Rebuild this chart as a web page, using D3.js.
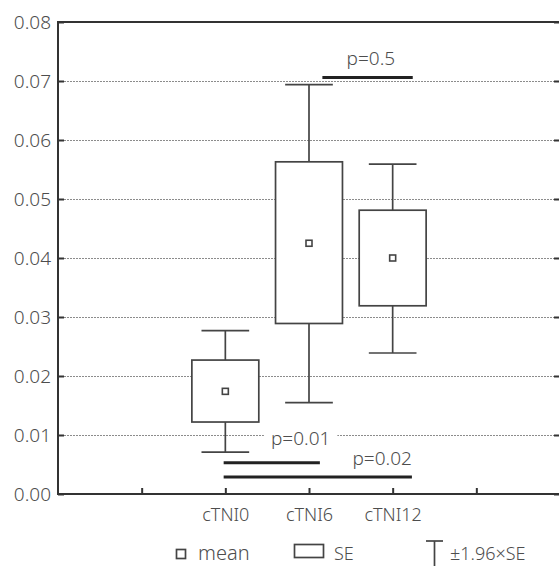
<!DOCTYPE html>
<html lang="en">
  <head>
    <meta charset="UTF-8" />
    <title>cTNI mean, SE and 1.96 SE</title>
    <script src="https://cdn.jsdelivr.net/npm/d3@7"></script>
    <style>
      body {
        margin: 0;
        background: #fff;
      }
      text {
        font-family: "Noto Sans", "Open Sans", sans-serif;
        font-weight: 300;
        fill: #4d4d4d;
      }
    </style>
  </head>
  <body>
    <div id="chart"></div>

    <script>
      // categories and their summary values
      const categories = ["cTNI0", "cTNI6", "cTNI12"];
      const means = [0.0174, 0.0425, 0.0400];
      const seLow = [0.0122, 0.0289, 0.0319];
      const seHigh = [0.0227, 0.0563, 0.0481];
      const ciLow = [0.0071, 0.0155, 0.0239];
      const ciHigh = [0.0277, 0.0694, 0.0559];

      // y ticks
      const yTicks = [0, 0.01, 0.02, 0.03, 0.04, 0.05, 0.06, 0.07, 0.08];

      // significance bars
      const compLabels = ["p=0.5", "p=0.01", "p=0.02"];
      const compFrom = ["cTNI6", "cTNI0", "cTNI0"];
      const compTo = ["cTNI12", "cTNI6", "cTNI12"];
      const compLevel = [0.0706, 0.0053, 0.0029];

      const legendLabels = ["mean", "SE", "±1.96×SE"];

      const W = 559,
        H = 566;
      const margin = { top: 22, right: 0, bottom: 72, left: 58 };

      const svg = d3
        .select("#chart")
        .append("svg")
        .attr("width", W)
        .attr("height", H);

      // slot positions: axis ticks at 1..5, categories on 2..4
      const x = d3.scaleLinear().domain([0, 6]).range([margin.left, W - margin.right + 1]);
      const pos = (c) => categories.indexOf(c) + 2;

      const y = d3
        .scaleLinear()
        .domain([0, 0.08])
        .range([H - margin.bottom, margin.top]);

      // gridlines
      svg
        .append("g")
        .selectAll("line")
        .data(yTicks.filter((t) => t > 0 && t < 0.08))
        .join("line")
        .attr("x1", x(0))
        .attr("x2", x(6))
        .attr("y1", (d) => y(d) + 0.5)
        .attr("y2", (d) => y(d) + 0.5)
        .attr("stroke", "#8c8c8c")
        .attr("stroke-width", 1)
        .attr("stroke-dasharray", "2,1");

      // left axis
      const yAxis = svg
        .append("g")
        .attr("transform", `translate(${x(0)},0)`)
        .call(
          d3
            .axisLeft(y)
            .tickValues(yTicks)
            .tickSize(-6)
            .tickPadding(7)
            .tickFormat(d3.format(".2f"))
        );
      yAxis.select(".domain").remove();
      yAxis.selectAll(".tick line").attr("stroke", "#333").attr("stroke-width", 2);
      yAxis
        .selectAll(".tick text")
        .attr("font-size", 19)
        .attr("fill", "#4d4d4d");

      // right side ticks
      svg
        .append("g")
        .attr("transform", `translate(${x(6)},0)`)
        .call(d3.axisRight(y).tickValues(yTicks).tickSize(-6).tickFormat(""))
        .call((g) => g.select(".domain").remove())
        .selectAll(".tick line")
        .attr("stroke", "#333")
        .attr("stroke-width", 2);

      // bottom axis
      const xAxis = svg
        .append("g")
        .attr("transform", `translate(0,${y(0)})`)
        .call(
          d3
            .axisBottom(x)
            .tickValues([1, 2, 3, 4, 5])
            .tickSize(-6)
            .tickPadding(14)
            .tickFormat((d) => (d >= 2 && d <= 4 ? categories[d - 2] : ""))
        );
      xAxis.select(".domain").remove();
      xAxis.selectAll(".tick line").attr("stroke", "#333").attr("stroke-width", 2);
      xAxis
        .selectAll(".tick text")
        .attr("font-size", 18)
        .attr("fill", "#4d4d4d");

      // frame: left, bottom and top
      const frame = svg.append("g").attr("stroke", "#333").attr("stroke-width", 2).attr("fill", "none");
      frame
        .append("path")
        .attr("d", `M${x(6) + 2},${y(0.08)}H${x(0)}V${y(0)}H${x(6) + 2}`);

      // whiskers
      const boxW = x(0.8) - x(0);
      const capW = x(0.57) - x(0);
      const boxes = svg.append("g");
      categories.forEach((c, i) => {
        const cx = x(pos(c));
        const g = boxes.append("g").attr("stroke", "#444").attr("stroke-width", 1.7);
        g.append("line").attr("x1", cx).attr("x2", cx).attr("y1", y(ciHigh[i])).attr("y2", y(seHigh[i]));
        g.append("line").attr("x1", cx).attr("x2", cx).attr("y1", y(seLow[i])).attr("y2", y(ciLow[i]));
        g.append("line").attr("x1", cx - capW / 2).attr("x2", cx + capW / 2).attr("y1", y(ciHigh[i])).attr("y2", y(ciHigh[i]));
        g.append("line").attr("x1", cx - capW / 2).attr("x2", cx + capW / 2).attr("y1", y(ciLow[i])).attr("y2", y(ciLow[i]));
        g.append("rect")
          .attr("x", cx - boxW / 2)
          .attr("y", y(seHigh[i]))
          .attr("width", boxW)
          .attr("height", y(seLow[i]) - y(seHigh[i]))
          .attr("fill", "#fff");
        g.append("rect")
          .attr("x", cx - 3)
          .attr("y", y(means[i]) - 3)
          .attr("width", 6)
          .attr("height", 6)
          .attr("fill", "#fff")
          .attr("stroke-width", 1.6);
      });

      // significance bars (line ends and label placement tuned per bar)
      const compLayout = {
        "p=0.5": { x1: 3.16, x2: 4.24, lx: 3.74, dy: -12, anchor: "middle", bg: false },
        "p=0.01": { x1: 1.98, x2: 3.13, lx: 2.9, dy: -18, anchor: "middle", bg: true },
        "p=0.02": { x1: 1.98, x2: 4.23, lx: 4.23, dy: -12, anchor: "end", bg: false },
      };
      const comps = svg.append("g");
      compLabels.forEach((lab, i) => {
        const L = compLayout[lab];
        const yy = y(compLevel[i]);
        comps
          .append("line")
          .attr("x1", x(L.x1))
          .attr("x2", x(L.x2))
          .attr("y1", yy)
          .attr("y2", yy)
          .attr("stroke", "#222")
          .attr("stroke-width", 3);
        const t = comps
          .append("text")
          .attr("x", x(L.lx))
          .attr("y", yy + L.dy)
          .attr("text-anchor", L.anchor)
          .attr("font-size", 19)
          .text(lab);
        if (L.bg) {
          const b = t.node().getBBox();
          comps
            .insert("rect", "text")
            .attr("x", b.x - 7)
            .attr("y", b.y + 4)
            .attr("width", b.width + 14)
            .attr("height", b.height - 8)
            .attr("fill", "#fff");
        }
      });

      // legend
      const lg = svg.append("g").attr("stroke", "#444").attr("stroke-width", 1.7).attr("fill", "#fff");
      lg.append("rect").attr("x", 176.5).attr("y", 549.5).attr("width", 9).attr("height", 9);
      lg.append("rect").attr("x", 294.5).attr("y", 544.5).attr("width", 29).attr("height", 13);
      lg.append("line").attr("x1", 426).attr("x2", 443).attr("y1", 541).attr("y2", 541);
      lg.append("line").attr("x1", 434.5).attr("x2", 434.5).attr("y1", 541).attr("y2", 566);
      const legX = [198, 334, 450];
      svg
        .append("g")
        .selectAll("text")
        .data(legendLabels)
        .join("text")
        .attr("x", (d, i) => legX[i])
        .attr("y", 560)
        .attr("font-size", (d, i) => (i === 0 ? 20 : 18))
        .text((d) => d);
    </script>
  </body>
</html>
